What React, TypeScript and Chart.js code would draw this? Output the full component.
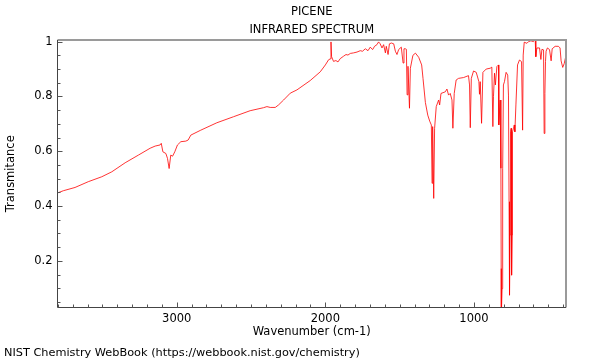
import React, { useEffect, useRef } from "react";
import { Chart, registerables } from "chart.js";
Chart.register(...registerables);

const wavenumbers = [
  3801, 3763, 3684, 3595, 3504, 3437, 3347, 3258, 3179, 3145, 3112, 3104, 3093, 3073, 3062, 3051, 3040, 3028, 3013, 2995,
  2972, 2939, 2923, 2905, 2838, 2730, 2618, 2506, 2416, 2393, 2371, 2337, 2315, 2281, 2236, 2191, 2102, 2034,
  2000, 1978, 1967, 1962, 1958, 1945, 1929, 1915, 1900, 1877, 1861, 1848, 1832, 1810, 1787, 1765, 1750, 1731, 1713, 1698,
  1682, 1669, 1653, 1642, 1631, 1619, 1608, 1596, 1590, 1578, 1569, 1556, 1540, 1529, 1518, 1507, 1489, 1477, 1471, 1462,
  1455, 1450, 1444, 1434, 1428,
  1411, 1394, 1372, 1352, 1343, 1327, 1311, 1298, 1287, 1282, 1278, 1271, 1265, 1254, 1238, 1231, 1222, 1193, 1182, 1171,
  1160, 1148, 1142, 1133, 1120, 1104, 1070, 1037, 1030, 1025, 1018, 1003, 985, 967, 963, 958, 949, 940, 918, 891,
  880, 873, 869, 862, 856, 846, 835, 833, 824, 819, 817, 816, 811, 807, 802, 795, 784, 773, 768, 764,
  761, 757, 754, 750, 747, 743, 741, 734, 729, 725, 718, 707, 694, 680, 673, 669, 662, 644, 633, 617,
  600, 588, 584, 577, 559, 550, 543, 532, 528, 523, 519, 515, 506, 492, 481, 474, 454, 432, 421, 414,
  403, 393, 385,
];
const transmittance = [
  0.448, 0.456, 0.468, 0.489, 0.507, 0.525, 0.558, 0.586, 0.611, 0.619, 0.623, 0.629, 0.598, 0.592, 0.574, 0.537, 0.586, 0.582, 0.598, 0.623,
  0.635, 0.637, 0.641, 0.659, 0.677, 0.704, 0.726, 0.748, 0.759, 0.763, 0.76, 0.76, 0.769, 0.787, 0.812, 0.824, 0.858, 0.89,
  0.915, 0.934, 0.937, 0.999, 0.945, 0.928, 0.931, 0.926, 0.938, 0.947, 0.953, 0.951, 0.957, 0.959, 0.962, 0.967, 0.965, 0.974, 0.967, 0.98,
  0.971, 0.983, 0.989, 0.999, 0.992, 0.977, 0.989, 0.959, 0.983, 0.953, 0.992, 0.995, 0.992, 0.965, 0.953, 0.971, 0.98, 0.922, 0.974, 0.974,
  0.972, 0.806, 0.91, 0.757, 0.903,
  0.95, 0.958, 0.943, 0.915, 0.866, 0.778, 0.732, 0.71, 0.696, 0.483, 0.69, 0.428, 0.684, 0.763, 0.787, 0.769, 0.811, 0.817, 0.827, 0.805,
  0.811, 0.787, 0.684, 0.811, 0.86, 0.866, 0.869, 0.876, 0.842, 0.686, 0.866, 0.893, 0.888, 0.854, 0.808, 0.854, 0.702, 0.888, 0.9, 0.903,
  0.907, 0.69, 0.799, 0.885, 0.842, 0.909, 0.915, 0.696, 0.787, 0.538, 0.172, 0.0, 0.099, 0.538, 0.842, 0.854, 0.888, 0.878, 0.805, 0.416,
  0.075, 0.294, 0.671, 0.684, 0.148, 0.294, 0.671, 0.684, 0.696, 0.671, 0.769, 0.915, 0.933, 0.927, 0.677, 0.951, 0.998, 0.994, 1.0, 1.003,
  1.0, 1.007, 0.945, 0.977, 0.977, 0.935, 0.972, 0.97, 0.665, 0.811, 0.927, 0.965, 0.977, 0.971, 0.93, 0.974, 0.983, 0.983, 0.977, 0.93,
  0.906, 0.92, 0.94,
];

const xTickLabels = [3000, 2000, 1000];
const yTickLabels = [0.2, 0.4, 0.6, 0.8, 1];
const titleLines = ["PICENE", "INFRARED SPECTRUM"];
const xTitle = "Wavenumber (cm-1)";
const yTitle = "Transmitance";
const footer = "NIST Chemistry WebBook (https://webbook.nist.gov/chemistry)";

const FONT = "11.5px 'DejaVu Sans', sans-serif";
const FOOT_FONT = "11.3px 'DejaVu Sans', sans-serif";

export default function App() {
  const ref = useRef<HTMLCanvasElement | null>(null);
  useEffect(() => {
    const deco = {
      id: "deco",
      afterDraw(chart: any) {
        const ctx = chart.ctx as CanvasRenderingContext2D;
        const { left, right, top, bottom } = chart.chartArea;
        const xs = chart.scales.x;
        const ys = chart.scales.y;
        ctx.save();
        ctx.strokeStyle = "#9a9a9a";
        ctx.lineWidth = 2;
        ctx.beginPath();
        ctx.moveTo(left, top);
        ctx.lineTo(right, top);
        ctx.lineTo(right, bottom);
        ctx.stroke();
        ctx.strokeStyle = "#444";
        ctx.lineWidth = 1;
        ctx.beginPath();
        ctx.moveTo(left, top);
        ctx.lineTo(left, bottom);
        ctx.lineTo(right, bottom);
        ctx.stroke();
        ctx.strokeStyle = "#555";
        ctx.beginPath();
        for (let w = 400; w <= 3800; w += 100) {
          const px = Math.round(xs.getPixelForValue(w)) + 0.5;
          const len = w % 1000 === 0 ? 5 : 3;
          ctx.moveTo(px, bottom);
          ctx.lineTo(px, bottom - len);
        }
        for (let k = 1; k <= 20; k++) {
          const v = k * 0.05;
          const py = Math.round(ys.getPixelForValue(v)) + 0.5;
          const len = k % 4 === 0 ? 5 : 3;
          ctx.moveTo(left, py);
          ctx.lineTo(left + len, py);
        }
        ctx.stroke();
        ctx.fillStyle = "#000";
        ctx.font = FONT;
        ctx.textBaseline = "middle";
        ctx.textAlign = "center";
        for (const w of xTickLabels) {
          ctx.fillText(String(w), xs.getPixelForValue(w), bottom + 12);
        }
        ctx.textAlign = "right";
        for (const v of yTickLabels) {
          ctx.fillText(String(v), left - 5, ys.getPixelForValue(v));
        }
        const cx = (left + right) / 2;
        ctx.textAlign = "center";
        ctx.fillText(titleLines[0], cx, 12);
        ctx.fillText(titleLines[1], cx, 30);
        ctx.fillText(xTitle, cx, bottom + 25);
        ctx.save();
        ctx.translate(11, (top + bottom) / 2);
        ctx.rotate(-Math.PI / 2);
        ctx.fillText(yTitle, 0, 0);
        ctx.restore();
        ctx.textAlign = "left";
        ctx.font = FOOT_FONT;
        ctx.fillText(footer, 4, 353);
        ctx.restore();
      },
    };
    const chart = new Chart(ref.current as HTMLCanvasElement, {
      type: "line",
      data: {
        datasets: [
          {
            data: wavenumbers.map((x, i) => ({ x, y: transmittance[i] })),
            borderColor: "rgba(255,0,0,0.8)",
            borderWidth: 1,
            pointRadius: 0,
            tension: 0,
            fill: false,
          },
        ],
      },
      options: {
        animation: false,
        responsive: false,
        maintainAspectRatio: false,
        layout: { padding: { left: 57.5, right: 34, top: 40, bottom: 52.5 } },
        scales: {
          x: { type: "linear", reverse: true, min: 381, max: 3802, display: false },
          y: { type: "linear", min: 0.03, max: 1.006, display: false },
        },
        plugins: { legend: { display: false }, tooltip: { enabled: false }, title: { display: false } },
      },
      plugins: [deco],
    });
    return () => chart.destroy();
  }, []);
  return (
    <div style={{ position: "absolute", left: 0, top: 0, width: 600, height: 360, background: "#fff" }}>
      <canvas ref={ref} width={600} height={360} style={{ width: 600, height: 360, display: "block" }} />
    </div>
  );
}
